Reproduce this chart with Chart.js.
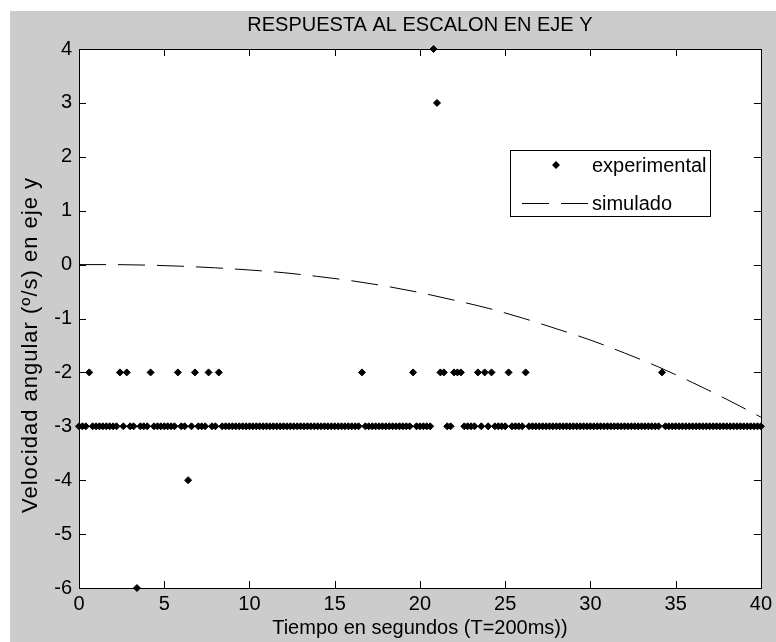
<!DOCTYPE html>
<html>
<head>
<meta charset="utf-8">
<script src="https://cdn.jsdelivr.net/npm/chart.js@4.4.0/dist/chart.umd.min.js"></script>
<style>
  html, body { margin: 0; padding: 0; background: #fff; }
  #fig { position: absolute; left: 10px; top: 11px; width: 766px; height: 631px; background: #cccccc; }
</style>
</head>
<body>
<div id="fig"><canvas id="grafico" width="766" height="631"></canvas></div>
<script>
// periodo de muestreo (T = 200 ms)
const periodoMuestreo = 0.2;

// velocidad angular medida, una muestra cada 0.2 s (0 .. 40 s)
const velExperimental = [
    -3, -3, -3, -2, -3, -3, -3, -3, -3, -3, -3, -3, -2, -3, -2, -3, -3, -6, -3, -3,  // 0 - 3.8
    -3, -2, -3, -3, -3, -3, -3, -3, -3, -2, -3, -3, -4, -3, -2, -3, -3, -3, -2, -3,  // 4 - 7.8
    -3, -2, -3, -3, -3, -3, -3, -3, -3, -3, -3, -3, -3, -3, -3, -3, -3, -3, -3, -3,  // 8 - 11.8
    -3, -3, -3, -3, -3, -3, -3, -3, -3, -3, -3, -3, -3, -3, -3, -3, -3, -3, -3, -3,  // 12 - 15.8
    -3, -3, -3, -2, -3, -3, -3, -3, -3, -3, -3, -3, -3, -3, -3, -3, -3, -3, -2, -3,  // 16 - 19.8
    -3, -3, -3, -3,  4,  3, -2, -2, -3, -3, -2, -2, -2, -3, -3, -3, -3, -2, -3, -2,  // 20 - 23.8
    -3, -2, -3, -3, -3, -3, -2, -3, -3, -3, -3, -2, -3, -3, -3, -3, -3, -3, -3, -3,  // 24 - 27.8
    -3, -3, -3, -3, -3, -3, -3, -3, -3, -3, -3, -3, -3, -3, -3, -3, -3, -3, -3, -3,  // 28 - 31.8
    -3, -3, -3, -3, -3, -3, -3, -3, -3, -3, -3, -2, -3, -3, -3, -3, -3, -3, -3, -3,  // 32 - 35.8
    -3, -3, -3, -3, -3, -3, -3, -3, -3, -3, -3, -3, -3, -3, -3, -3, -3, -3, -3, -3,  // 36 - 39.8
    -3                                                                                  // 40
];

// respuesta simulada
const tSimulado = [0, 2, 4, 6, 8, 10, 12, 14, 16, 18, 20, 22, 24, 26, 28, 30, 32, 34, 36, 38, 40];
const velSimulado = [0, 0, -0.01, -0.03, -0.06, -0.1, -0.15, -0.22, -0.3, -0.4, -0.52,
    -0.66, -0.81, -0.99, -1.19, -1.4, -1.64, -1.9, -2.19, -2.5, -2.83];

const ticksX = [0, 5, 10, 15, 20, 25, 30, 35, 40];
const ticksY = [-6, -5, -4, -3, -2, -1, 0, 1, 2, 3, 4];

const tituloGrafico = 'RESPUESTA AL ESCALON EN EJE Y';
const tituloX = 'Tiempo en segundos (T=200ms))';
const tituloY = 'Velocidad angular (\u00BA/s) en eje y';
const nombresSeries = ['experimental', 'simulado'];

const fuente = '"Liberation Sans", Arial, sans-serif';
Chart.defaults.font.family = fuente;
Chart.defaults.font.size = 20;
Chart.defaults.color = '#000';

const puntosExp = velExperimental.map((v, i) => ({ x: +(i * periodoMuestreo).toFixed(1), y: v }));
const puntosSim = tSimulado.map((t, i) => ({ x: t, y: velSimulado[i] }));

// fondo blanco, caja y marcas hacia dentro (estilo matlab)
const marcoEjes = {
    id: 'marcoEjes',
    beforeDatasetsDraw(chart) {
        const ctx = chart.ctx;
        const a = chart.chartArea;
        const sx = chart.scales.x, sy = chart.scales.y;
        const largo = 7;
        ctx.save();
        ctx.fillStyle = '#fff';
        ctx.fillRect(a.left, a.top, a.right - a.left, a.bottom - a.top);
        ctx.strokeStyle = '#000';
        ctx.lineWidth = 1;
        ctx.beginPath();
        sx.ticks.forEach(t => {
            const px = Math.round(sx.getPixelForValue(t.value)) + 0.5;
            ctx.moveTo(px, a.bottom); ctx.lineTo(px, a.bottom - largo);
            ctx.moveTo(px, a.top); ctx.lineTo(px, a.top + largo);
        });
        sy.ticks.forEach(t => {
            const py = Math.round(sy.getPixelForValue(t.value)) + 0.5;
            ctx.moveTo(a.left, py); ctx.lineTo(a.left + largo, py);
            ctx.moveTo(a.right, py); ctx.lineTo(a.right - largo, py);
        });
        ctx.stroke();
        ctx.strokeRect(Math.round(a.left) + 0.5, Math.round(a.top) + 0.5,
            Math.round(a.right - a.left), Math.round(a.bottom - a.top));
        ctx.restore();
    },
    afterDraw(chart) {
        const ctx = chart.ctx;
        const a = chart.chartArea;
        ctx.save();
        // titulo
        ctx.fillStyle = '#000';
        ctx.font = '20px ' + fuente;
        ctx.textAlign = 'center';
        ctx.textBaseline = 'middle';
        ctx.fillText(tituloGrafico, (a.left + a.right) / 2, 14);

        // etiqueta del eje y (texto girado de matlab, algo mayor y espaciado)
        ctx.save();
        ctx.translate(21, 334);
        ctx.rotate(-Math.PI / 2);
        ctx.font = '22px ' + fuente;
        ctx.letterSpacing = '1px';
        ctx.fillText(tituloY, 0, 0);
        ctx.restore();

        // leyenda
        const lx = 500, ly = 139, lw = 200, lh = 66;
        ctx.fillStyle = '#fff';
        ctx.fillRect(lx, ly, lw, lh);
        ctx.strokeStyle = '#000';
        ctx.lineWidth = 1;
        ctx.strokeRect(lx + 0.5, ly + 0.5, lw, lh);

        ctx.fillStyle = '#000';
        ctx.beginPath();
        ctx.moveTo(546, 150); ctx.lineTo(550, 154); ctx.lineTo(546, 158); ctx.lineTo(542, 154);
        ctx.closePath();
        ctx.fill();

        ctx.beginPath();
        ctx.setLineDash([27, 12]);
        ctx.moveTo(512, 192.5); ctx.lineTo(578, 192.5);
        ctx.stroke();
        ctx.setLineDash([]);

        ctx.textAlign = 'left';
        ctx.fillText(nombresSeries[0], 582, 155);
        ctx.fillText(nombresSeries[1], 582, 193);
        ctx.restore();
    }
};

new Chart(document.getElementById('grafico'), {
    type: 'scatter',
    data: {
        datasets: [
            {
                label: nombresSeries[0],
                data: puntosExp,
                showLine: false,
                pointStyle: 'rectRot',
                pointRadius: 3.5,
                borderWidth: 1,
                backgroundColor: '#000',
                borderColor: '#000',
                clip: false
            },
            {
                label: nombresSeries[1],
                data: puntosSim,
                showLine: true,
                pointRadius: 0,
                borderWidth: 1,
                borderColor: '#000',
                borderDash: [27, 12],
                cubicInterpolationMode: 'monotone',
                fill: false
            }
        ]
    },
    options: {
        responsive: false,
        animation: false,
        layout: { padding: { top: 38, right: 14, left: 0, bottom: 0 } },
        plugins: {
            legend: { display: false },
            tooltip: { enabled: false },
            title: { display: false }
        },
        scales: {
            x: {
                type: 'linear',
                min: 0, max: 40,
                afterBuildTicks: s => { s.ticks = ticksX.map(v => ({ value: v })); },
                afterFit: s => { s.height = 54; },
                grid: { display: false, drawTicks: false },
                border: { display: false },
                ticks: { padding: 4, maxRotation: 0 },
                title: { display: true, text: tituloX, padding: { top: 0, bottom: 2 } }
            },
            y: {
                type: 'linear',
                min: -6, max: 4,
                afterBuildTicks: s => { s.ticks = ticksY.map(v => ({ value: v })); },
                afterFit: s => { s.width = 69; },
                grid: { display: false, drawTicks: false },
                border: { display: false },
                ticks: { padding: 7 }
            }
        }
    },
    plugins: [marcoEjes]
});
</script>
</body>
</html>
